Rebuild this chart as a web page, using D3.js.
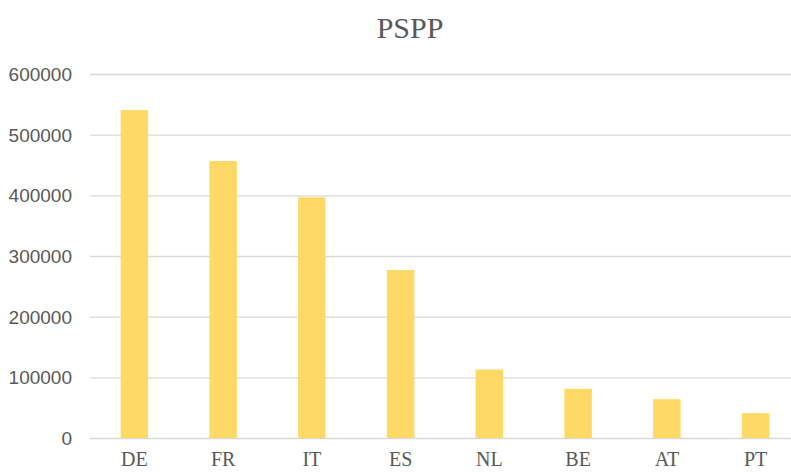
<!DOCTYPE html>
<html><head><meta charset="utf-8">
<script src="https://cdn.jsdelivr.net/npm/d3@7"></script>
<style>body{margin:0;background:#fff}svg{display:block}</style>
</head><body>
<svg id="c" width="791" height="472"></svg>
<script>
const categories = ["DE","FR","IT","ES","NL","BE","AT","PT"];
const values = [540500, 456500, 396800, 277000, 113000, 81000, 64000, 41000];
const yTicks = [0,100000,200000,300000,400000,500000,600000];
const title = "PSPP";

const svg = d3.select("#c");
const x = d3.scaleBand().domain(categories).range([90, 800]).paddingInner(0.69).paddingOuter(0.345);
const y = d3.scaleLinear().domain([0, 600000]).range([438, 74]);

// gridlines
const yAxis = d3.axisLeft(y).tickValues(yTicks).tickSize(-(791-90)).tickPadding(18).tickFormat(d3.format("d"));
const gy = svg.append("g").attr("transform","translate(90,0)").call(yAxis);
gy.select(".domain").remove();
gy.selectAll(".tick line").attr("stroke","#d9d9d9").attr("stroke-width",1.3);
gy.selectAll(".tick text").attr("fill","#595959").attr("font-family","Liberation Sans, Arial, sans-serif").attr("font-size",19).attr("dy","0.35em");

// bars
svg.append("g").selectAll("rect").data(categories).join("rect")
  .attr("x", d => x(d)).attr("width", x.bandwidth())
  .attr("y", (d,i) => y(values[i])).attr("height", (d,i) => y(0) - y(values[i]))
  .attr("fill", "#ffd966");

// x axis
const xAxis = d3.axisBottom(x).tickSize(0).tickPadding(0);
const gx = svg.append("g").attr("transform","translate(0,438)").call(xAxis);
gx.select(".domain").remove();
gx.selectAll(".tick text").attr("fill","#595959").attr("font-family","Liberation Serif, Times New Roman, serif").attr("font-size",20).attr("y",28).attr("dy",0);

// title
svg.append("text").attr("x",410).attr("y",38).attr("text-anchor","middle")
  .attr("fill","#595959").attr("font-family","Liberation Serif, Times New Roman, serif").attr("font-size",30).text(title);
</script>
</body></html>
